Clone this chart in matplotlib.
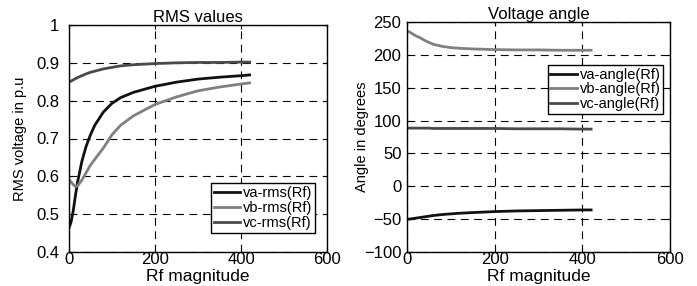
import numpy as np
import matplotlib.pyplot as plt

plt.rcParams['font.family'] = ['Liberation Sans', 'DejaVu Sans']

# Rf sweep (ohm)
rf = [0, 5, 10, 15, 20, 30, 40, 50, 60, 80, 100, 120, 150, 200, 250, 300, 350, 400, 420]

va_rms = [0.463, 0.48, 0.51, 0.55, 0.585, 0.64, 0.68, 0.71, 0.735, 0.77, 0.793, 0.808, 0.822, 0.838, 0.849, 0.857, 0.862, 0.866, 0.868]
vb_rms = [0.591, 0.585, 0.578, 0.573, 0.575, 0.59, 0.61, 0.63, 0.645, 0.675, 0.71, 0.735, 0.76, 0.79, 0.81, 0.826, 0.836, 0.844, 0.847]
vc_rms = [0.849, 0.852, 0.855, 0.858, 0.861, 0.866, 0.871, 0.875, 0.878, 0.884, 0.888, 0.892, 0.895, 0.898, 0.900, 0.901, 0.901, 0.902, 0.902]

va_ang = [-50, -50, -49.5, -49, -48.5, -47.5, -46.5, -45.5, -44.5, -43, -42, -41, -40, -38.5, -37.5, -37, -36.5, -36, -36]
vb_ang = [236, 235, 233, 231, 229, 226, 222, 219, 216, 213, 211, 210, 209, 208, 207.5, 207.5, 207, 207, 207]
vc_ang = [88.5, 88.5, 88.5, 88.5, 88.5, 88.5, 88.5, 88.5, 88, 88, 88, 88, 88, 88, 87.5, 87.5, 87.5, 87, 87]

cols = ['#111111', '#808080', '#4a4a4a']

fig = plt.figure(figsize=(6.97, 2.86), dpi=100)
ax1 = fig.add_axes([69/697, 1-252/286, 258/697, 227/286])
ax2 = fig.add_axes([407/697, 1-252/286, 263/697, 230/286])

for y, c, lab in zip([va_rms, vb_rms, vc_rms], cols, ['va-rms(Rf)', 'vb-rms(Rf)', 'vc-rms(Rf)']):
    ax1.plot(rf, y, color=c, lw=2, label=lab)
for y, c, lab in zip([va_ang, vb_ang, vc_ang], cols, ['va-angle(Rf)', 'vb-angle(Rf)', 'vc-angle(Rf)']):
    ax2.plot(rf, y, color=c, lw=2, label=lab)

ax1.set_xlim(0, 600)
ax1.set_ylim(0.4, 1)
ax1.set_xticks([0, 200, 400, 600])
ax1.set_yticks([0.4, 0.5, 0.6, 0.7, 0.8, 0.9, 1])
ax1.set_yticklabels(['0.4', '0.5', '0.6', '0.7', '0.8', '0.9', '1'])
ax1.set_title('RMS values', fontsize=12, pad=2)
ax1.set_xlabel('Rf magnitude', fontsize=12.5, va='center')
ax1.set_ylabel('RMS voltage in p.u', fontsize=10.5, va='center')
ax1.xaxis.set_label_coords(0.5, -0.106)
ax1.yaxis.set_label_coords(-0.19, 0.5)

ax2.set_xlim(0, 600)
ax2.set_ylim(-100, 250)
ax2.set_xticks([0, 200, 400, 600])
ax2.set_yticks(np.arange(-100, 251, 50))
ax2.set_title('Voltage angle', fontsize=12, pad=2)
ax2.set_xlabel('Rf magnitude', fontsize=12.5, va='center')
ax2.set_ylabel('Angle in degrees', fontsize=10.5, va='center')
ax2.xaxis.set_label_coords(0.5, -0.106)
ax2.yaxis.set_label_coords(-0.171, 0.5)

for ax in (ax1, ax2):
    ax.grid(True, color='black', linestyle=(0, (7, 5)), lw=0.8)
    ax.tick_params(direction='in', labelsize=12, length=3, top=True, right=True)
    ax.tick_params(axis='x', pad=0)
    for s in ax.spines.values():
        s.set_linewidth(1)
ax1.tick_params(axis='y', pad=7)
ax2.tick_params(axis='y', pad=4)

ax1.legend(loc='lower right', bbox_to_anchor=(0.955, 0.085), fontsize=10.5, fancybox=False,
           edgecolor='black', framealpha=1, handlelength=1.8, handletextpad=0.2,
           borderpad=0.2, labelspacing=0.05, borderaxespad=0)
ax2.legend(loc='center right', bbox_to_anchor=(0.975, 0.707), fontsize=10.5, fancybox=False,
           edgecolor='black', framealpha=1, handlelength=1.8, handletextpad=0.2,
           borderpad=0.2, labelspacing=0.05, borderaxespad=0)

fig.savefig('out.png', dpi=100)
